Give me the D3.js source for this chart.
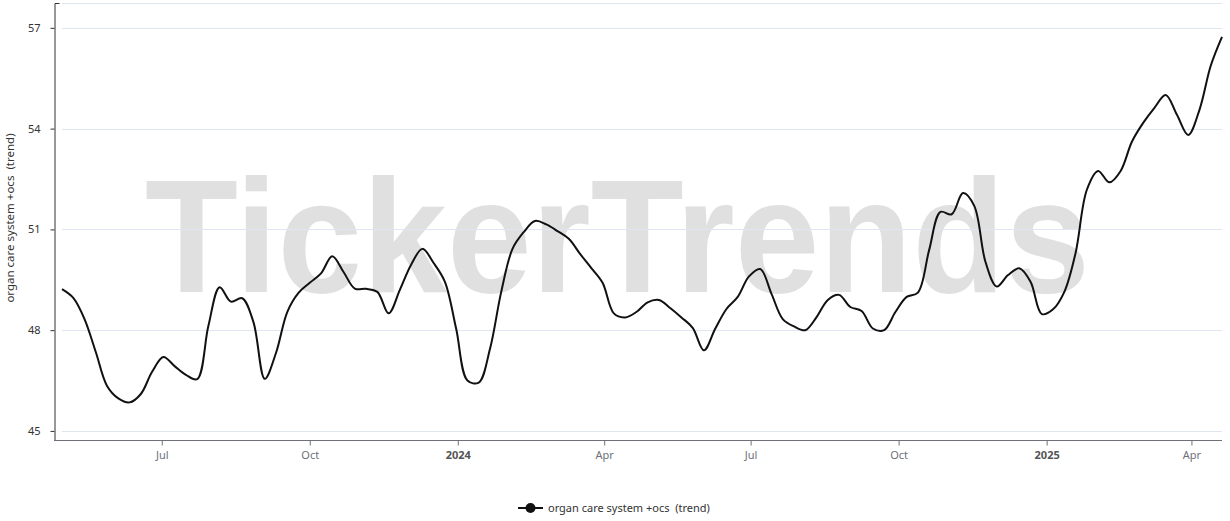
<!DOCTYPE html>
<html>
<head>
<meta charset="utf-8">
<script src="https://cdn.jsdelivr.net/npm/d3@7"></script>
<style>
  html, body { margin: 0; padding: 0; background: #fff; }
  svg { display: block; font-family: "Segoe UI", "Noto Sans", "Open Sans", sans-serif; }
</style>
</head>
<body>
<svg id="chart" width="1230" height="521"></svg>
<script>
// ---- data ----
const seriesName = "organ care system +ocs  (trend)";
const startDate = new Date(2023, 3, 30);   // first weekly point
const trendValues = [
  49.22, 48.96, 48.33, 47.35, 46.34, 45.97, 45.85, 46.10, 46.76, 47.20,
  46.93, 46.67, 46.54, 48.13, 49.28, 48.85, 48.95, 48.24, 46.55, 47.32,
  48.54, 49.11, 49.41, 49.69, 50.20, 49.73, 49.24, 49.23, 49.14, 48.50,
  49.20, 49.95, 50.42, 50.00, 49.44, 48.04, 46.50, 46.44, 47.44, 49.14,
  50.42, 50.92, 51.25, 51.15, 50.95, 50.72, 50.27, 49.85, 49.41, 48.50,
  48.38, 48.54, 48.83, 48.90, 48.66, 48.38, 48.07, 47.40, 48.04, 48.63,
  48.99, 49.60, 49.82, 49.08, 48.33, 48.11, 48.00, 48.39, 48.90, 49.05,
  48.69, 48.57, 48.05, 48.00, 48.54, 48.99, 49.12, 50.39, 51.52, 51.45,
  52.08, 51.70, 50.03, 49.30, 49.64, 49.84, 49.44, 48.48, 48.62, 49.14,
  50.30, 52.18, 52.74, 52.40, 52.74, 53.61, 54.17, 54.62, 55.00, 54.41,
  53.81, 54.56, 55.87, 56.73
];
const yTicks = [45, 48, 51, 54, 57];
const yDomain = [44.73, 57.74];
const xTickDates = [
  new Date(2023, 6, 1), new Date(2023, 9, 1), new Date(2024, 0, 1), new Date(2024, 3, 1),
  new Date(2024, 6, 1), new Date(2024, 9, 1), new Date(2025, 0, 1), new Date(2025, 3, 1)
];
const xTickLabels = ["Jul", "Oct", "2024", "Apr", "Jul", "Oct", "2025", "Apr"];
const xTickBold = [false, false, true, false, false, false, true, false];
const watermark = "TickerTrends";

// ---- build ----
const data = trendValues.map((v, i) => ({ date: d3.timeWeek.offset(startDate, i), value: v }));

const svg = d3.select("#chart");
const plotLeft = 62, plotRight = 1222, plotTop = 3, plotBottom = 440, axisX = 54;

const x = d3.scaleTime()
  .domain([data[0].date, data[data.length - 1].date])
  .range([plotLeft, plotRight]);
const y = d3.scaleLinear().domain(yDomain).range([plotBottom, plotTop]);

// watermark
svg.append("text")
  .attr("x", 145).attr("y", 292)
  .attr("textLength", 945).attr("lengthAdjust", "spacingAndGlyphs")
  .style("font-family", "'Liberation Sans', Arial, Helvetica, sans-serif")
  .style("font-weight", "bold")
  .style("font-size", "162px")
  .style("fill", "#e0e0e0")
  .text(watermark);

// gridlines
const grid = svg.append("g");
grid.selectAll("line.g").data(yTicks.concat([yDomain[1]])).join("line")
  .attr("x1", plotLeft).attr("x2", plotRight)
  .attr("y1", d => Math.round(y(d)) + 0.5).attr("y2", d => Math.round(y(d)) + 0.5)
  .attr("stroke", "#e0e6f1").attr("stroke-width", 1);

// y axis
const yAxis = d3.axisLeft(y).tickValues(yTicks).tickSize(4).tickSizeOuter(-5).tickPadding(10)
  .tickFormat(d3.format("d"));
const gy = svg.append("g").attr("transform", `translate(${axisX + 0.5},0)`).call(yAxis);
gy.select(".domain").attr("stroke", "#333").attr("stroke-width", 1);
gy.selectAll(".tick line").attr("stroke", "#333");
gy.selectAll(".tick text").attr("fill", "#333").style("font-size", "11px")
  .style("font-family", "'Segoe UI', 'Noto Sans', sans-serif");

// x axis
const xAxis = d3.axisBottom(x).tickValues(xTickDates).tickSize(5).tickSizeOuter(0).tickPadding(6)
  .tickFormat((d, i) => xTickLabels[i]);
const gx = svg.append("g").attr("transform", `translate(0,${plotBottom + 0.5})`).call(xAxis);
gx.select(".domain").attr("stroke", "#6e7079").attr("d", `M${axisX},0H${plotRight}`);
gx.selectAll(".tick line").attr("stroke", "#6e7079");
gx.selectAll(".tick text")
  .attr("fill", (d, i) => xTickBold[i] ? "#555" : "#6e7079")
  .style("font-weight", (d, i) => xTickBold[i] ? "bold" : "normal")
  .style("font-size", "11px")
  .style("font-family", "'Segoe UI', 'Noto Sans', sans-serif");

// y axis title
svg.append("text")
  .attr("transform", `translate(14,${218}) rotate(-90)`)
  .attr("text-anchor", "middle")
  .style("font-size", "11.5px").style("fill", "#333").style("white-space", "pre")
  .text(seriesName);

// line
const line = d3.line()
  .x(d => x(d.date)).y(d => y(d.value))
  .curve(d3.curveCatmullRom.alpha(0.5));
svg.append("path").datum(data)
  .attr("d", line)
  .attr("fill", "none")
  .attr("stroke", "#111")
  .attr("stroke-width", 2)
  .attr("stroke-linejoin", "round");

// legend
const lg = svg.append("g").attr("transform", "translate(518,508)");
lg.append("line").attr("x1", 0).attr("x2", 25).attr("y1", 0).attr("y2", 0)
  .attr("stroke", "#111").attr("stroke-width", 2);
lg.append("circle").attr("cx", 12.5).attr("cy", 0).attr("r", 5).attr("fill", "#111");
lg.append("text").attr("x", 30).attr("y", 0).attr("dy", "0.35em")
  .style("font-size", "11px").style("fill", "#333").style("white-space", "pre")
  .text(seriesName);
</script>
</body>
</html>
